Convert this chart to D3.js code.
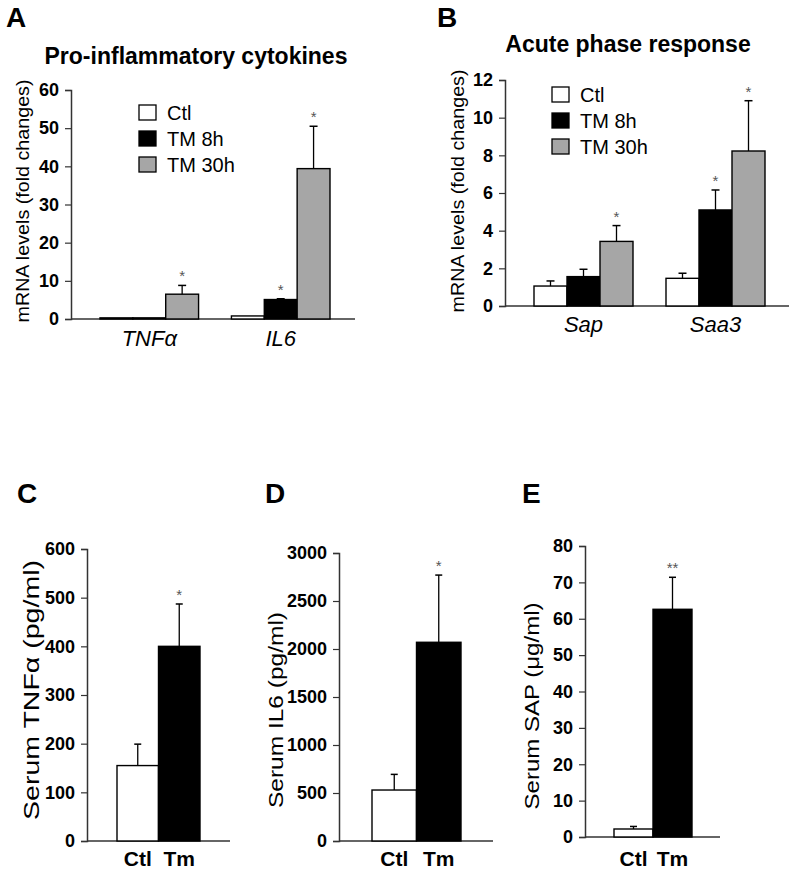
<!DOCTYPE html>
<html>
<head>
<meta charset="utf-8">
<script src="https://cdn.jsdelivr.net/npm/d3@7"></script>
<style>
  html, body { margin: 0; padding: 0; background: #fff; }
  svg { display: block; font-family: "Liberation Sans", Arial, Helvetica, sans-serif; }
</style>
</head>
<body>
<svg id="fig" width="795" height="869"></svg>
<script>
// ---------- DATA ----------
const seriesNames = ["Ctl", "TM 8h", "TM 30h"];

// Panel A: pro-inflammatory cytokines (mRNA fold change)
const cytokineGenes = ["TNFα", "IL6"];
const cytokineMeans = [[0.3, 0.3, 6.5], [0.8, 5.1, 39.4]];
const cytokineSEM   = [[0, 0, 2.3], [0, 0.2, 11.1]];
const cytokineSig   = [["", "", "*"], ["", "*", "*"]];
const cytokineTicks = [0, 10, 20, 30, 40, 50, 60];

// Panel B: acute phase response (mRNA fold change)
const acuteGenes = ["Sap", "Saa3"];
const acuteMeans = [[1.06, 1.56, 3.43], [1.47, 5.1, 8.23]];
const acuteSEM   = [[0.27, 0.39, 0.84], [0.27, 1.06, 2.67]];
const acuteSig   = [["", "", "*"], ["", "*", "*"]];
const acuteTicks = [0, 2, 4, 6, 8, 10, 12];

// Panels C-E: serum levels
const serumGroups = ["Ctl", "Tm"];
const tnfMeans = [155, 400];
const tnfSEM   = [44, 87];
const tnfSig   = ["", "*"];
const tnfTicks = [0, 100, 200, 300, 400, 500, 600];

const il6Means = [531, 2070];
const il6SEM   = [163, 700];
const il6Sig   = ["", "*"];
const il6Ticks = [0, 500, 1000, 1500, 2000, 2500, 3000];

const sapMeans = [2.2, 62.6];
const sapSEM   = [0.7, 8.8];
const sapSig   = ["", "**"];
const sapTicks = [0, 10, 20, 30, 40, 50, 60, 70, 80];

// ---------- DRAWING ----------
const svg = d3.select("#fig");
const seriesFill = d3.scaleOrdinal().domain(seriesNames).range(["#ffffff", "#000000", "#a6a6a6"]);
const serumFill = d3.scaleOrdinal().domain(serumGroups).range(["#ffffff", "#000000"]);
const axisColor = "#333";

function panelLetter(txt, x, y) {
  svg.append("text").attr("x", x).attr("y", y).attr("font-size", 28).attr("font-weight", "bold").text(txt);
}

function yAxis(g, y, ticks, x0, fs) {
  const ax = d3.axisLeft(y).tickValues(ticks).tickSize(6).tickPadding(6).tickFormat(d3.format("d"));
  const a = g.append("g").attr("transform", `translate(${x0},0)`).call(ax);
  a.select(".domain").attr("stroke", axisColor).attr("stroke-width", 1.5);
  a.selectAll(".tick line").attr("stroke", axisColor).attr("stroke-width", 1.2);
  a.selectAll(".tick text").attr("font-size", fs).attr("font-weight", "bold")
    .attr("fill", "#000").attr("font-family", "Liberation Sans, Arial, sans-serif");
  return a;
}

function yLabel(txt, cx, cy, fs, len) {
  svg.append("text").attr("transform", `translate(${cx},${cy}) rotate(-90)`)
    .attr("text-anchor", "middle").attr("dominant-baseline", "central")
    .attr("font-size", fs).attr("textLength", len).attr("lengthAdjust", "spacingAndGlyphs")
    .text(txt);
}

function errorBar(g, cx, yTop, yMean, capW) {
  g.append("line").attr("x1", cx).attr("x2", cx).attr("y1", yMean).attr("y2", yTop)
    .attr("stroke", "#000").attr("stroke-width", 1.3);
  g.append("line").attr("x1", cx - capW / 2).attr("x2", cx + capW / 2).attr("y1", yTop).attr("y2", yTop)
    .attr("stroke", "#000").attr("stroke-width", 1.5);
}

function groupedPanel(cfg) {
  const g = svg.append("g");
  const y = d3.scaleLinear().domain([0, d3.max(cfg.ticks)]).range([cfg.y0, cfg.y1]);
  const x0 = d3.scaleBand().domain(cfg.cats).range([cfg.barL, cfg.barR]).paddingInner(0.25).paddingOuter(0);
  const x1 = d3.scaleBand().domain(seriesNames).range([0, x0.bandwidth()]).padding(0);
  g.append("line").attr("x1", cfg.ax).attr("x2", cfg.axR).attr("y1", cfg.y0).attr("y2", cfg.y0)
    .attr("stroke", axisColor).attr("stroke-width", 1.5);
  cfg.cats.forEach((c, i) => {
    seriesNames.forEach((s, j) => {
      const v = cfg.means[i][j], e = cfg.sem[i][j];
      const bx = x0(c) + x1(s);
      g.append("rect").attr("x", bx).attr("y", y(v)).attr("width", x1.bandwidth())
        .attr("height", y(0) - y(v)).attr("fill", seriesFill(s)).attr("stroke", "#000").attr("stroke-width", 1.4);
      const cx = bx + x1.bandwidth() / 2;
      if (e > 0) errorBar(g, cx, y(v + e), y(v), 8);
      if (cfg.sig[i][j]) {
        g.append("text").attr("x", cx).attr("y", y(v + e) - 4).attr("text-anchor", "middle")
          .attr("font-size", 15).attr("fill", "#555").text(cfg.sig[i][j]);
      }
    });
    g.append("text").attr("x", x0(c) + x0.bandwidth() / 2).attr("y", cfg.y0 + cfg.catDy)
      .attr("text-anchor", "middle").attr("font-size", 22).attr("font-style", "italic").text(c);
  });
  yAxis(g, y, cfg.ticks, cfg.ax, 18);
  seriesNames.forEach((s, j) => {
    const ly = cfg.legY + j * cfg.legStep;
    g.append("rect").attr("x", cfg.legX).attr("y", ly).attr("width", 17).attr("height", 15)
      .attr("fill", seriesFill(s)).attr("stroke", "#000").attr("stroke-width", 1.3);
    g.append("text").attr("x", cfg.legX + 28).attr("y", ly + 7.5).attr("dominant-baseline", "central")
      .attr("font-size", 20).text(s);
  });
  svg.append("text").attr("x", cfg.titleX).attr("y", cfg.titleY).attr("text-anchor", "middle")
    .attr("font-size", 23).attr("font-weight", "bold").text(cfg.title);
}

function pairPanel(cfg) {
  const g = svg.append("g");
  const y = d3.scaleLinear().domain([0, d3.max(cfg.ticks)]).range([cfg.y0, cfg.y1]);
  const x = d3.scaleBand().domain(serumGroups).range([cfg.barL, cfg.barR]).padding(0);
  g.append("line").attr("x1", cfg.ax).attr("x2", cfg.axR).attr("y1", cfg.y0).attr("y2", cfg.y0)
    .attr("stroke", axisColor).attr("stroke-width", 1.5);
  serumGroups.forEach((s, i) => {
    const v = cfg.means[i], e = cfg.sem[i];
    g.append("rect").attr("x", x(s)).attr("y", y(v)).attr("width", x.bandwidth())
      .attr("height", y(0) - y(v)).attr("fill", serumFill(s)).attr("stroke", "#000").attr("stroke-width", 1.4);
    const cx = x(s) + x.bandwidth() / 2;
    errorBar(g, cx, y(v + e), y(v), 7);
    if (cfg.sig[i]) {
      g.append("text").attr("x", cx).attr("y", y(v + e) - 4).attr("text-anchor", "middle")
        .attr("font-size", 15).attr("fill", "#555").text(cfg.sig[i]);
    }
    g.append("text").attr("x", cx).attr("y", 866).attr("text-anchor", "middle")
      .attr("font-size", 21).attr("font-weight", "bold").text(s);
  });
  yAxis(g, y, cfg.ticks, cfg.ax, 18);
}

// Panel A
panelLetter("A", 6, 27);
groupedPanel({
  cats: cytokineGenes, means: cytokineMeans, sem: cytokineSEM, sig: cytokineSig, ticks: cytokineTicks,
  y0: 319, y1: 90, ax: 71, axR: 355, barL: 100, barR: 330, catDy: 27,
  legX: 139, legY: 105, legStep: 26, title: "Pro-inflammatory cytokines", titleX: 196, titleY: 64
});
yLabel("mRNA levels (fold changes)", 23, 201, 18, 243);

// Panel B
panelLetter("B", 437, 27);
groupedPanel({
  cats: acuteGenes, means: acuteMeans, sem: acuteSEM, sig: acuteSig, ticks: acuteTicks,
  y0: 306, y1: 80, ax: 505, axR: 789, barL: 534, barR: 765, catDy: 26,
  legX: 552, legY: 87, legStep: 26, title: "Acute phase response", titleX: 628, titleY: 52
});
yLabel("mRNA levels (fold changes)", 458, 191, 18, 243);

// Panel C
panelLetter("C", 17, 503);
pairPanel({ means: tnfMeans, sem: tnfSEM, sig: tnfSig, ticks: tnfTicks,
  y0: 841, y1: 549, ax: 87, axR: 230, barL: 117, barR: 200 });
yLabel("Serum TNFα (pg/ml)", 31, 690, 22, 260);

// Panel D
panelLetter("D", 265, 503);
pairPanel({ means: il6Means, sem: il6SEM, sig: il6Sig, ticks: il6Ticks,
  y0: 841, y1: 553, ax: 339, axR: 493, barL: 372, barR: 461 });
yLabel("Serum IL6 (pg/ml)", 275, 710, 21, 196);

// Panel E
panelLetter("E", 522, 503);
pairPanel({ means: sapMeans, sem: sapSEM, sig: sapSig, ticks: sapTicks,
  y0: 837, y1: 546, ax: 585, axR: 720, barL: 614, barR: 692 });
yLabel("Serum SAP (μg/ml)", 531, 706, 21, 207);
</script>
</body>
</html>
